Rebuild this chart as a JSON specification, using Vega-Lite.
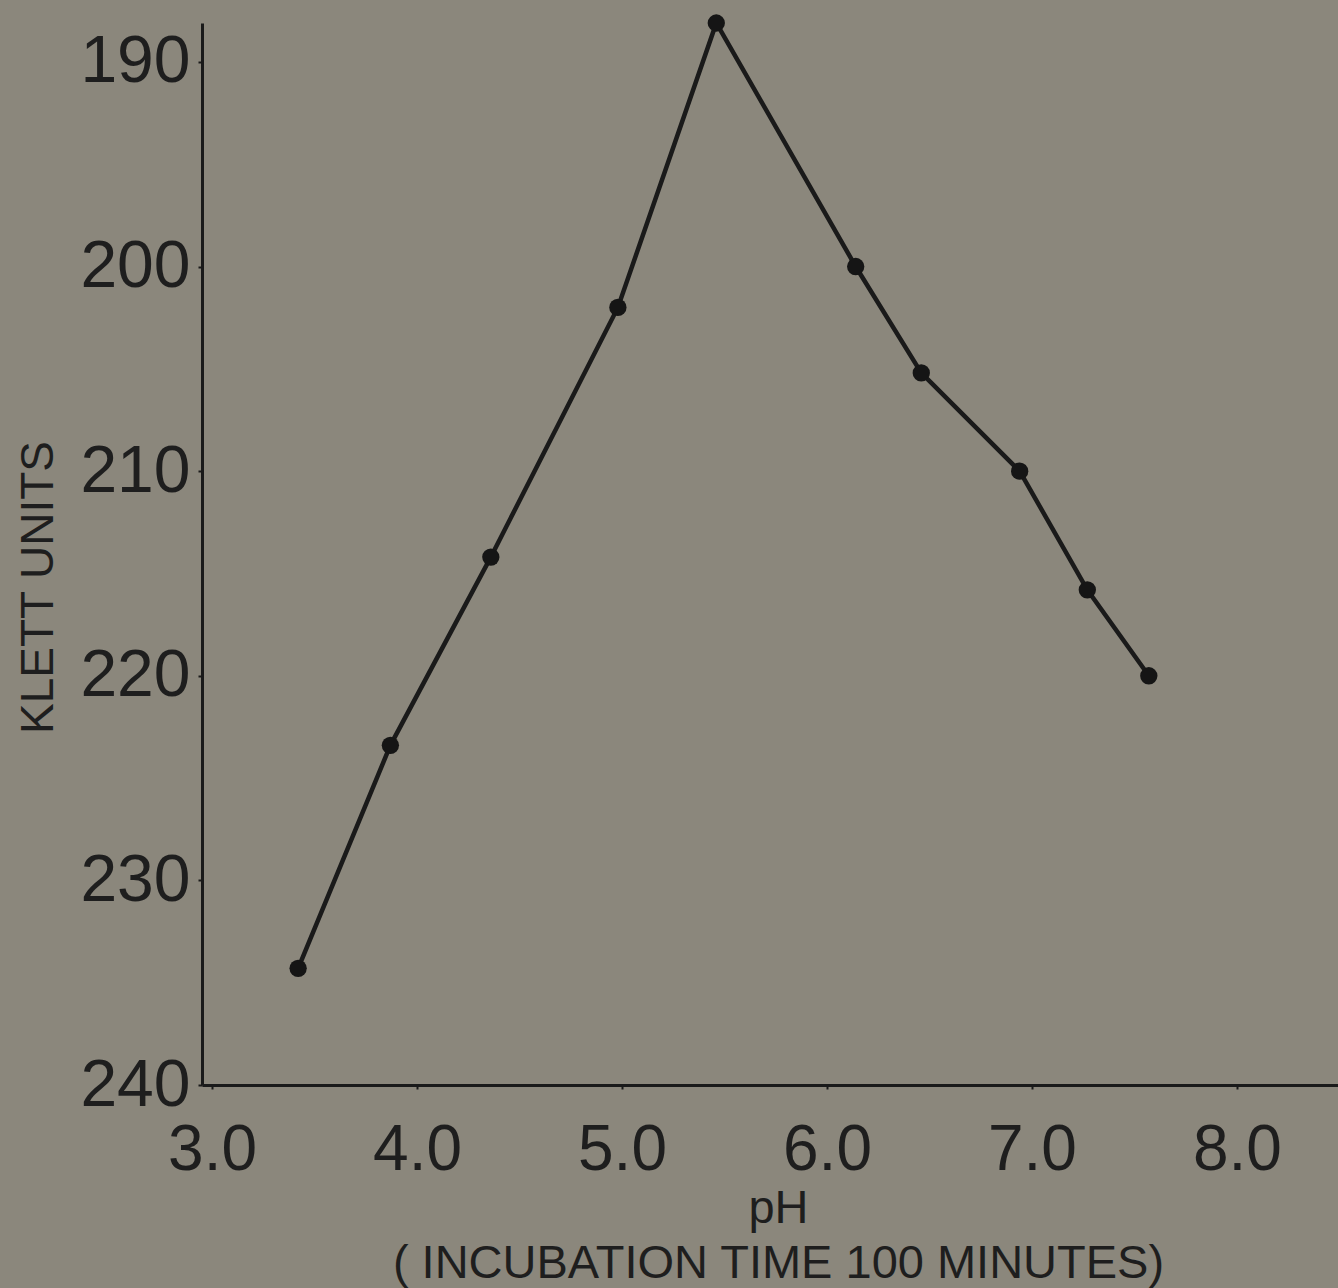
{
  "$schema": "https://vega.github.io/schema/vega-lite/v6.json",
  "width": 1136,
  "height": 1062,
  "autosize": {"type": "none"},
  "padding": {"left": 202, "top": 23, "right": 0, "bottom": 203},
  "background": "#8b877c",
  "config": {
    "view": {"stroke": null},
    "axis": {"grid": false}
  },
  "data": {
    "values": [
      {"pH": 3.42, "klett": 234.3},
      {"pH": 3.87, "klett": 223.4},
      {"pH": 4.36, "klett": 214.2},
      {"pH": 4.98, "klett": 202.0},
      {"pH": 5.46, "klett": 188.1},
      {"pH": 6.14, "klett": 200.0},
      {"pH": 6.46, "klett": 205.2},
      {"pH": 6.94, "klett": 210.0},
      {"pH": 7.27, "klett": 215.8},
      {"pH": 7.57, "klett": 220.0}
    ]
  },
  "encoding": {
    "x": {
      "field": "pH",
      "type": "quantitative",
      "scale": {"domain": [2.951, 8.493], "nice": false, "zero": false},
      "axis": {
        "values": [3, 4, 5, 6, 7, 8],
        "format": ".1f",
        "domainColor": "#1a1a1a",
        "domainWidth": 3,
        "tickColor": "#1a1a1a",
        "tickSize": 4,
        "tickWidth": 2,
        "labelFont": "Liberation Sans",
        "labelFontSize": 64,
        "labelColor": "#1e1e1e",
        "labelPadding": 29,
        "labelBaseline": "top",
        "title": ["pH", "( INCUBATION TIME 100 MINUTES)"],
        "titleFont": "Liberation Sans",
        "titleFontSize": 47,
        "titleFontWeight": "normal",
        "titleColor": "#1e1e1e",
        "titleLineHeight": 55,
        "titleAnchor": "start",
        "titleAlign": "center",
        "titleBaseline": "alphabetic",
        "titleX": 576,
        "titleY": 137
      }
    },
    "y": {
      "field": "klett",
      "type": "quantitative",
      "scale": {"domain": [188.1, 240], "nice": false, "zero": false, "reverse": true},
      "axis": {
        "values": [190, 200, 210, 220, 230, 240],
        "domainColor": "#1a1a1a",
        "domainWidth": 3,
        "tickColor": "#1a1a1a",
        "tickSize": 4,
        "tickWidth": 2,
        "labelFont": "Liberation Sans",
        "labelFontSize": 66,
        "labelColor": "#1e1e1e",
        "labelPadding": 8,
        "labelBaseline": "middle",
        "title": "KLETT UNITS",
        "titleFont": "Liberation Sans",
        "titleFontSize": 46,
        "titleFontWeight": "normal",
        "titleColor": "#1e1e1e",
        "titleAngle": -90,
        "titleAlign": "center",
        "titleBaseline": "middle",
        "titleX": -164,
        "titleY": 564
      }
    }
  },
  "layer": [
    {"mark": {"type": "line", "color": "#1a1a1a", "strokeWidth": 4.5}},
    {"mark": {"type": "point", "filled": true, "color": "#151515", "opacity": 1, "size": 300}}
  ]
}
